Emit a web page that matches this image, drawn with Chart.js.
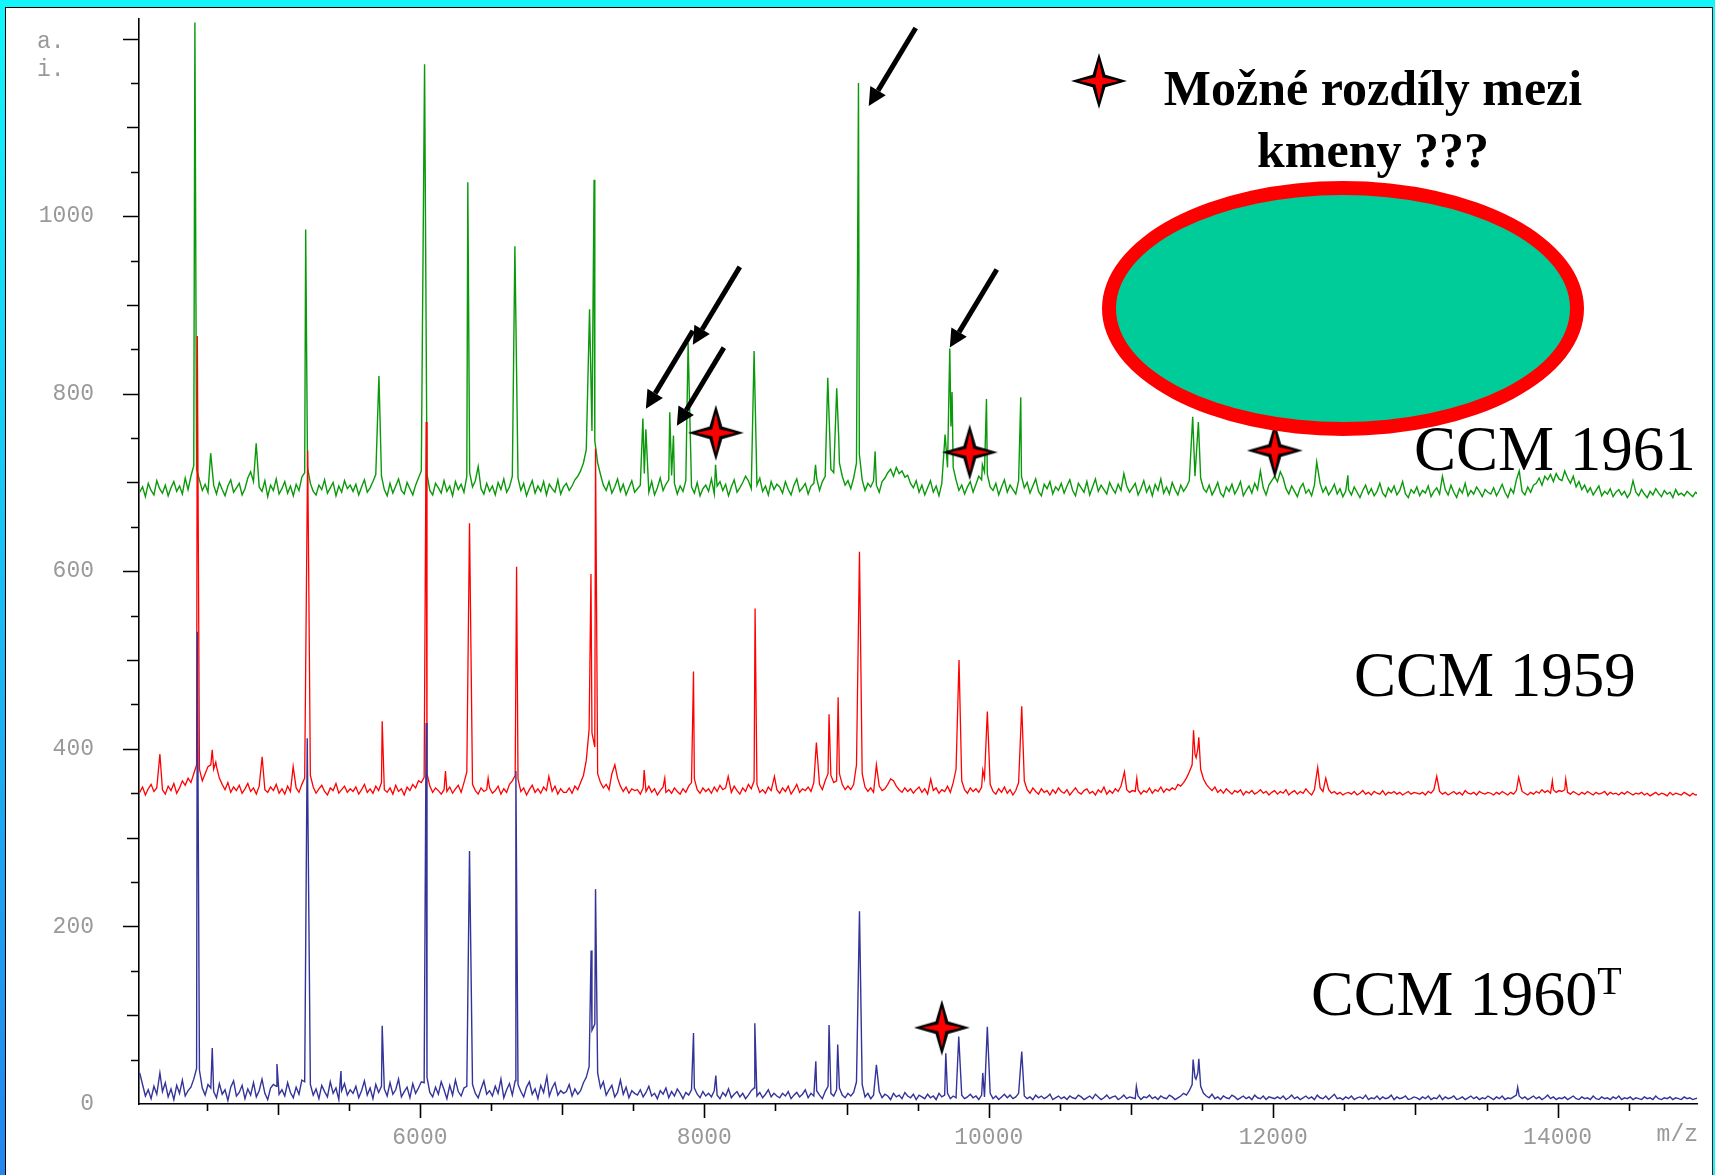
<!DOCTYPE html>
<html>
<head>
<meta charset="utf-8">
<title>MALDI-TOF spektra</title>
<script src="https://cdn.jsdelivr.net/npm/chart.js@4.4.1/dist/chart.umd.min.js"></script>
<style>
    html, body { margin: 0; padding: 0; background: #fff; }
    body { width: 1715px; height: 1175px; position: relative; overflow: hidden; }
    #chart { position: absolute; left: 0; top: 0; }
    .frame { position: absolute; }
    .serif { position: absolute; font-family: "Liberation Serif", "Times New Roman", serif; color: #000; white-space: nowrap; }
    #note { left: 1073px; top: 57px; width: 600px; text-align: center; font-size: 50px; font-weight: bold; line-height: 62px; }
    .strain { font-size: 63px; line-height: 63px; }
    #oval { position: absolute; left: 1102px; top: 181px; width: 482px; height: 255px; box-sizing: border-box;
            border: 14px solid #ff0000; border-radius: 50%; background: #00cc99; }
    #legendStar { position: absolute; left: 1071px; top: 53px; }
</style>
</head>
<body>
<canvas id="chart" width="1715" height="1175"></canvas>

<div class="serif strain" style="left:1414px; top:418px;">CCM 1961</div>
<div class="serif strain" style="left:1354px; top:644px;">CCM 1959</div>
<div class="serif strain" style="left:1311px; top:962px; font-size:64px; line-height:64px;">CCM 1960<span style="font-size:40px; position:relative; top:-21px;">T</span></div>
<div id="oval"></div>
<div id="note" class="serif">Možné rozdíly mezi<br>kmeny ???</div>
<canvas id="legendStar" width="56" height="56"></canvas>

<div class="frame" style="left:0; top:0; width:1715px; height:7px; background:#12f6fb;"></div>
<div class="frame" style="left:0; top:0; width:5px; height:1175px; background:linear-gradient(#12f6fb, #2386ee);"></div>
<div class="frame" style="left:1713px; top:0; width:2px; height:1175px; background:#12f6fb;"></div>
<div class="frame" style="left:5px; top:7px; width:1708px; height:1px; background:#000;"></div>
<div class="frame" style="left:5px; top:7px; width:1px; height:1168px; background:#000;"></div>
<div class="frame" style="left:1712px; top:7px; width:1px; height:1168px; background:#222;"></div>

<script>
// osy
const xTickLabels = ['6000', '8000', '10000', '12000', '14000'];
const yTickLabels = ['0', '200', '400', '600', '800', '1000'];

// sumove body spekter, krok 20 m/z od 4030 (intenzita nad vlastni zakladnou), 25 bodu na radek
const noiseStart = 4030;
const noiseStep = 20;

const greenOffset = 677; // CCM 1961
const redOffset = 342;   // CCM 1959
const blueOffset = 0;    // CCM 1960T

const greenNoise = [
    12, 18, 7, 22, 14, 9, 25, 16, 11, 20, 8, 17, 24, 13, 19, 10, 28, 15, 30, 42, 38, 26, 14, 21, 12,
    30, 20, 10, 23, 15, 8, 19, 26, 12, 17, 22, 9, 16, 28, 35, 24, 11, 18, 13, 25, 7, 20, 14, 27, 10,
    16, 24, 11, 19, 8, 21, 14, 29, 34, 40, 22, 13, 9, 20, 15, 26, 11, 17, 23, 8, 19, 12, 25, 16, 20,
    13, 21, 9, 18, 26, 12, 17, 24, 32, 20, 30, 15, 8, 22, 11, 19, 27, 14, 10, 23, 16, 9, 20, 28, 36,
    20, 32, 14, 9, 22, 17, 11, 25, 13, 19, 8, 24, 15, 21, 12, 30, 34, 18, 25, 41, 16, 10, 22, 13, 19,
    9, 23, 15, 27, 12, 18, 30, 20, 28, 14, 22, 8, 17, 25, 11, 19, 13, 24, 9, 21, 16, 12, 26, 10, 18,
    22, 14, 19, 26, 30, 36, 45, 60, 50, 81, 70, 45, 32, 20, 14, 24, 11, 18, 27, 13, 21, 9, 17, 25, 12,
    16, 20, 15, 15, 12, 24, 9, 17, 28, 14, 21, 26, 15, 22, 10, 19, 13, 25, 15, 18, 11, 23, 8, 16, 20,
    13, 27, 10, 19, 24, 14, 21, 8, 18, 26, 12, 17, 23, 30, 25, 16, 11, 20, 28, 13, 19, 9, 24, 15, 21,
    18, 11, 24, 15, 9, 20, 27, 13, 17, 22, 10, 19, 22, 28, 14, 24, 30, 15, 38, 34, 15, 45, 30, 20, 25,
    16, 28, 45, 55, 26, 14, 22, 18, 25, 20, 12, 24, 28, 34, 38, 30, 40, 33, 36, 29, 31, 22, 17, 25, 12,
    20, 9, 17, 25, 12, 19, 8, 22, 15, 40, 15, 40, 26, 14, 20, 10, 18, 24, 12, 21, 30, 26, 35, 32, 18,
    14, 22, 9, 18, 26, 12, 20, 15, 10, 25, 30, 17, 23, 11, 19, 27, 13, 8, 21, 16, 24, 10, 18, 14, 22,
    11, 19, 26, 14, 8, 22, 17, 12, 24, 9, 18, 27, 13, 20, 15, 10, 23, 16, 11, 21, 14, 33, 19, 12, 17,
    22, 9, 16, 25, 12, 19, 8, 21, 14, 27, 11, 18, 10, 23, 15, 9, 20, 13, 18, 25, 15, 30, 15, 28, 16,
    12, 20, 9, 15, 23, 11, 7, 18, 13, 21, 10, 16, 24, 8, 14, 19, 11, 22, 15, 36, 17, 9, 20, 25, 30,
    24, 35, 28, 16, 10, 19, 13, 7, 17, 22, 11, 15, 8, 20, 15, 22, 12, 18, 9, 14, 21, 10, 16, 7, 13,
    15, 9, 18, 12, 6, 14, 20, 10, 16, 8, 13, 22, 11, 7, 17, 12, 19, 9, 14, 24, 10, 6, 15, 11, 18,
    8, 14, 11, 19, 7, 13, 17, 10, 30, 15, 9, 20, 12, 6, 16, 11, 22, 8, 14, 10, 18, 13, 7, 15, 12,
    10, 17, 8, 14, 21, 12, 6, 16, 11, 26, 36, 13, 9, 18, 12, 20, 22, 28, 20, 30, 26, 32, 24, 33, 27,
    25, 36, 28, 22, 30, 18, 24, 15, 20, 12, 17, 9, 14, 19, 8, 13, 10, 16, 7, 12, 15, 9, 13, 6, 11,
    25, 12, 8, 15, 10, 6, 13, 9, 16, 11, 7, 14, 10, 12, 6, 15, 9, 11, 8, 13, 10, 7, 12, 9
];

const redNoise = [
    9, 15, 6, 13, 18, 10, 14, 20, 12, 7, 16, 11, 19, 8, 14, 22, 17, 25, 20, 30, 40, 35, 22, 30, 38,
    40, 35, 38, 25, 18, 12, 20, 9, 15, 11, 17, 8, 13, 19, 10, 14, 7, 16, 12, 12, 9, 15, 11, 18, 8,
    13, 7, 16, 10, 12, 14, 9, 18, 25, 12, 28, 15, 8, 13, 17, 10, 6, 14, 11, 19, 8, 12, 16, 9, 13,
    10, 15, 7, 12, 18, 9, 13, 8, 16, 11, 20, 12, 9, 14, 7, 17, 10, 13, 6, 15, 11, 18, 14, 22, 20,
    26, 30, 16, 9, 14, 11, 7, 12, 10, 15, 8, 13, 17, 9, 20, 32, 12, 18, 11, 7, 14, 10, 12, 14, 8,
    11, 16, 7, 13, 9, 18, 22, 28, 24, 10, 14, 6, 12, 17, 9, 13, 8, 15, 11, 12, 10, 16, 7, 13, 9,
    9, 14, 8, 16, 12, 20, 28, 45, 80, 76, 60, 30, 20, 14, 18, 12, 30, 12, 25, 16, 10, 15, 8, 13, 11,
    12, 7, 14, 10, 16, 9, 13, 6, 11, 15, 9, 12, 8, 14, 10, 7, 13, 9, 16, 20, 24, 12, 8, 14, 10,
    13, 8, 15, 10, 17, 12, 14, 12, 9, 16, 11, 7, 14, 10, 18, 13, 22, 18, 9, 12, 8, 15, 11, 12, 12,
    8, 14, 10, 16, 7, 12, 18, 9, 13, 11, 15, 10, 20, 12, 18, 12, 22, 30, 28, 20, 22, 30, 18, 12, 16,
    12, 18, 40, 12, 30, 15, 10, 14, 9, 12, 16, 11, 13, 18, 24, 22, 16, 12, 9, 14, 10, 13, 8, 12, 15,
    9, 13, 7, 12, 11, 14, 8, 12, 10, 16, 9, 20, 35, 12, 22, 12, 8, 14, 10, 13, 9, 15, 25, 12, 18,
    10, 7, 13, 9, 15, 8, 12, 6, 11, 20, 12, 22, 12, 8, 14, 10, 7, 13, 9, 11, 6, 12, 8, 14, 10,
    8, 12, 6, 10, 14, 9, 7, 11, 13, 8, 10, 6, 12, 9, 15, 7, 11, 8, 13, 10, 16, 12, 12, 9, 11,
    10, 12, 7, 11, 9, 14, 8, 12, 10, 15, 9, 13, 11, 14, 12, 18, 16, 20, 25, 32, 40, 52, 58, 35, 24,
    18, 14, 11, 15, 9, 12, 8, 13, 10, 7, 11, 9, 12, 6, 10, 8, 11, 7, 9, 12, 8, 10, 6, 9, 11,
    7, 10, 8, 12, 6, 9, 11, 7, 10, 8, 13, 9, 6, 12, 12, 14, 10, 12, 12, 8, 10, 7, 9, 6, 8,
    9, 7, 10, 6, 8, 11, 7, 9, 6, 10, 8, 7, 11, 6, 9, 8, 10, 7, 9, 6, 8, 10, 7, 9, 8,
    7, 9, 6, 10, 8, 12, 12, 10, 7, 9, 6, 8, 10, 7, 9, 6, 11, 8, 7, 9, 6, 10, 8, 7, 9,
    8, 6, 9, 7, 10, 8, 6, 9, 7, 11, 12, 10, 8, 6, 9, 7, 10, 8, 12, 9, 11, 8, 12, 9, 11,
    10, 12, 9, 7, 10, 8, 6, 9, 7, 10, 8, 6, 9, 7, 8, 10, 6, 9, 7, 8, 6, 9, 7, 10, 8,
    6, 8, 7, 9, 6, 8, 5, 7, 9, 6, 8, 7, 5, 9, 6, 8, 7, 6, 9, 7, 5, 8, 6, 7
];

const blueNoise = [
    35, 22, 9, 16, 6, 20, 11, 12, 14, 24, 8, 17, 5, 21, 12, 27, 9, 15, 19, 28, 40, 38, 18, 10, 22,
    18, 14, 7, 23, 11, 16, 4, 19, 26, 9, 13, 21, 6, 17, 10, 24, 8, 15, 28, 12, 5, 18, 22, 20, 11,
    16, 9, 24, 13, 7, 19, 11, 27, 25, 12, 22, 10, 17, 6, 21, 14, 8, 25, 12, 18, 5, 15, 23, 10, 16,
    12, 20, 7, 15, 26, 10, 18, 6, 22, 13, 20, 17, 9, 24, 11, 16, 28, 8, 14, 19, 7, 23, 12, 18, 25,
    24, 30, 13, 8, 19, 11, 25, 16, 6, 21, 10, 27, 14, 9, 18, 20, 12, 22, 12, 7, 17, 26, 11, 15, 9,
    20, 12, 28, 7, 16, 23, 10, 26, 22, 14, 8, 19, 25, 11, 17, 6, 21, 13, 12, 9, 18, 24, 10, 15, 12,
    14, 22, 9, 17, 11, 15, 24, 30, 42, 83, 90, 35, 18, 25, 10, 16, 21, 8, 13, 27, 11, 19, 7, 15, 12,
    10, 16, 8, 13, 20, 9, 12, 6, 15, 11, 18, 7, 14, 9, 17, 12, 6, 13, 10, 16, 18, 11, 7, 14, 9,
    12, 8, 15, 10, 6, 13, 9, 17, 7, 11, 14, 8, 12, 6, 10, 15, 18, 9, 13, 7, 11, 16, 8, 12, 9,
    7, 12, 9, 14, 6, 10, 13, 8, 11, 16, 7, 12, 9, 15, 10, 6, 14, 20, 12, 9, 16, 18, 10, 7, 12,
    9, 13, 25, 12, 22, 8, 12, 6, 10, 12, 14, 7, 11, 9, 5, 12, 8, 10, 6, 13, 9, 7, 11, 5, 10,
    8, 6, 11, 7, 9, 5, 12, 8, 10, 12, 6, 9, 7, 12, 10, 6, 8, 11, 7, 9, 5, 10, 8, 12, 12,
    6, 9, 5, 8, 11, 7, 10, 6, 8, 12, 12, 9, 6, 8, 5, 10, 7, 9, 6, 8, 11, 5, 7, 9, 6,
    8, 5, 9, 7, 6, 10, 8, 5, 7, 9, 6, 11, 8, 5, 7, 10, 6, 8, 9, 5, 7, 10, 6, 8, 7,
    6, 9, 5, 8, 7, 10, 6, 8, 5, 9, 7, 6, 10, 8, 5, 7, 9, 12, 10, 15, 22, 30, 35, 20, 12,
    9, 7, 11, 6, 8, 5, 9, 7, 6, 10, 8, 5, 7, 9, 6, 8, 5, 10, 7, 6, 9, 5, 8, 7, 6,
    8, 6, 9, 5, 7, 10, 6, 8, 5, 7, 9, 6, 8, 5, 10, 7, 6, 9, 5, 8, 11, 6, 7, 5, 8,
    6, 9, 5, 7, 8, 6, 10, 5, 7, 6, 9, 5, 8, 6, 7, 10, 5, 8, 6, 7, 9, 5, 6, 8, 7,
    5, 8, 6, 9, 5, 7, 6, 10, 5, 8, 6, 7, 9, 5, 6, 8, 5, 7, 9, 6, 8, 5, 7, 6, 9,
    7, 5, 8, 6, 9, 5, 7, 6, 8, 10, 9, 6, 8, 5, 7, 9, 6, 8, 5, 7, 10, 6, 8, 5, 7,
    6, 8, 5, 7, 9, 6, 5, 8, 6, 7, 5, 9, 6, 5, 8, 6, 7, 5, 8, 6, 9, 5, 7, 6, 8,
    5, 7, 6, 5, 8, 6, 7, 5, 9, 6, 5, 7, 6, 8, 5, 7, 6, 5, 8, 6, 7, 5, 6, 7
];

// piky [m/z, intenzita nad zakladnou]
const greenPeaks = [
    [4418, 541], [4529, 56], [4849, 67], [5197, 308], [5712, 143], [6033, 494], [6337, 361],
    [6668, 289], [7193, 218], [7225, 364], [7568, 95], [7578, 33], [7589, 83], [7757, 102],
    [7770, 31], [7783, 76], [7886, 180], [8079, 43], [8350, 171], [8782, 43], [8868, 141],
    [8931, 129], [8945, 74], [9084, 473], [9201, 58], [9693, 77], [9726, 174], [9734, 86],
    [9742, 125], [9955, 43], [9984, 117], [10225, 119], [11434, 97], [11474, 91], [12306, 46],
    [12525, 31]
];

const redPeaks = [
    [4172, 52], [4435, 523], [4540, 57], [4565, 43], [4891, 49], [5109, 38], [5211, 394],
    [5735, 89], [6044, 426], [6180, 33], [6349, 312], [6480, 25], [6680, 263], [6907, 27],
    [7203, 255], [7235, 396], [7371, 40], [7577, 34], [7722, 25], [7924, 145], [8168, 27],
    [8357, 216], [8493, 27], [8788, 65], [8877, 97], [8941, 116], [9091, 280], [9210, 40],
    [9592, 24], [9791, 158], [9958, 34], [9990, 100], [10232, 106], [10954, 32], [11041, 25],
    [11440, 79], [11458, 48], [11477, 71], [12313, 37], [12370, 25], [13150, 27], [13726, 26],
    [13963, 22], [14057, 24]
];

const bluePeaks = [
    [4172, 35], [4435, 532], [4540, 63], [4995, 45], [5208, 412], [5445, 37], [5735, 88],
    [6044, 429], [6349, 285], [6675, 375], [6893, 31], [7204, 173], [7235, 242], [7924, 80],
    [8081, 32], [8355, 91], [8784, 48], [8877, 89], [8938, 67], [9091, 217], [9210, 44],
    [9698, 57], [9789, 76], [9958, 35], [9990, 87], [10232, 59], [11038, 20], [11437, 50],
    [11457, 28], [11477, 51], [13719, 19]
];

// hvezdicky (mozne rozdily) a sipky
const starPoints = [[8081, 756], [9866, 734], [12011, 736], [9670, 86]];
const arrowTips = [[9156, 1124], [7919, 855], [7807, 764], [7589, 783], [9726, 852]];

// slozeni spektra: sumove body + piky, serazeno podle m/z
function buildSpectrum(noise, peaks, offset) {
    const pts = [];
    noise.forEach((v, i) => {
        const mz = noiseStart + i * noiseStep;
        if (!peaks.some(p => Math.abs(p[0] - mz) < 5)) {
            pts.push({ x: mz, y: offset + v });
        }
    });
    peaks.forEach(p => pts.push({ x: p[0], y: offset + p[1] }));
    pts.sort((a, b) => a.x - b.x);
    return pts;
}

function drawStar(ctx, cx, cy, R, r) {
    ctx.beginPath();
    for (let k = 0; k < 8; k++) {
        const a = -Math.PI / 2 + k * Math.PI / 4;
        const rad = k % 2 === 0 ? R : r;
        const px = cx + rad * Math.cos(a);
        const py = cy + rad * Math.sin(a);
        if (k === 0) ctx.moveTo(px, py); else ctx.lineTo(px, py);
    }
    ctx.closePath();
    ctx.fill();
}

function paintStar(canvas) {
    const c = canvas.getContext('2d');
    const m = canvas.width / 2;
    c.fillStyle = '#000';
    drawStar(c, m, m, 28, 9);
    c.fillStyle = '#ff0000';
    drawStar(c, m, m, 20, 5);
}

const starImg = document.createElement('canvas');
starImg.width = 56;
starImg.height = 56;
paintStar(starImg);
paintStar(document.getElementById('legendStar'));

// kratke znacky na osach + popisky a.i. a m/z
const axisMarks = {
    id: 'axisMarks',
    afterDraw(chart) {
        const { ctx, chartArea } = chart;
        const x = chart.scales.x;
        const y = chart.scales.y;
        ctx.save();
        ctx.strokeStyle = '#000';
        ctx.lineWidth = 1.6;
        ctx.beginPath();
        for (let v = 50; v <= 1200; v += 50) {
            const len = v % 200 === 0 ? 16 : (v % 100 === 0 ? 12 : 8);
            const py = Math.round(y.getPixelForValue(v)) + 0.5;
            ctx.moveTo(chartArea.left - len, py);
            ctx.lineTo(chartArea.left, py);
        }
        for (let v = 4500; v <= 14500; v += 500) {
            const len = v % 2000 === 0 ? 14 : (v % 1000 === 0 ? 11 : 7);
            const px = Math.round(x.getPixelForValue(v)) + 0.5;
            ctx.moveTo(px, chartArea.bottom);
            ctx.lineTo(px, chartArea.bottom + len);
        }
        ctx.stroke();

        ctx.fillStyle = '#999';
        ctx.font = '23px "Liberation Mono", "Courier New", monospace';
        ctx.textBaseline = 'middle';
        ctx.textAlign = 'left';
        const top = y.getPixelForValue(1200);
        ctx.fillText('a.', chartArea.left - 102, top + 3);
        ctx.fillText('i.', chartArea.left - 102, top + 31);
        ctx.textAlign = 'right';
        ctx.fillText('m/z', chartArea.right + 1, chartArea.bottom + 31);
        ctx.restore();
    }
};

// sipky k pikum
const arrows = {
    id: 'arrows',
    afterDatasetsDraw(chart) {
        const { ctx } = chart;
        const x = chart.scales.x;
        const y = chart.scales.y;
        ctx.save();
        ctx.strokeStyle = '#000';
        ctx.fillStyle = '#000';
        ctx.lineWidth = 5;
        arrowTips.forEach(([mz, v]) => {
            const tx = x.getPixelForValue(mz);
            const ty = y.getPixelForValue(v);
            const sx = tx + 47;
            const sy = ty - 78;
            const ang = Math.atan2(ty - sy, tx - sx);
            const hl = 18, hw = 9;
            const bx = tx - hl * Math.cos(ang);
            const by = ty - hl * Math.sin(ang);
            ctx.beginPath();
            ctx.moveTo(sx, sy);
            ctx.lineTo(bx, by);
            ctx.stroke();
            ctx.beginPath();
            ctx.moveTo(tx, ty);
            ctx.lineTo(bx + hw * Math.sin(ang), by - hw * Math.cos(ang));
            ctx.lineTo(bx - hw * Math.sin(ang), by + hw * Math.cos(ang));
            ctx.closePath();
            ctx.fill();
        });
        ctx.restore();
    }
};

const tickFont = { family: '"Liberation Mono", "Courier New", monospace', size: 23 };

function noScalePadding(scale) {
    scale.paddingTop = 0;
    scale.paddingBottom = 0;
    scale.paddingLeft = 0;
    scale.paddingRight = 0;
}

new Chart(document.getElementById('chart'), {
    type: 'line',
    data: {
        datasets: [
            {
                type: 'scatter',
                label: 'rozdíly',
                data: starPoints.map(p => ({ x: p[0], y: p[1] })),
                pointStyle: starImg,
                pointRadius: 28,
                showLine: false,
                order: 0
            },
            {
                label: 'CCM 1960T',
                data: buildSpectrum(blueNoise, bluePeaks, blueOffset),
                borderColor: '#333399',
                borderWidth: 1.4,
                pointRadius: 0,
                tension: 0,
                order: 1
            },
            {
                label: 'CCM 1959',
                data: buildSpectrum(redNoise, redPeaks, redOffset),
                borderColor: '#ff0000',
                borderWidth: 1.3,
                pointRadius: 0,
                tension: 0,
                order: 2
            },
            {
                label: 'CCM 1961',
                data: buildSpectrum(greenNoise, greenPeaks, greenOffset),
                borderColor: '#0a990a',
                borderWidth: 1.4,
                pointRadius: 0,
                tension: 0,
                order: 3
            }
        ]
    },
    options: {
        responsive: false,
        devicePixelRatio: 1,
        animation: false,
        layout: { autoPadding: false, padding: { left: 0, top: 19, right: 18, bottom: 0 } },
        plugins: {
            legend: { display: false },
            tooltip: { enabled: false }
        },
        scales: {
            x: {
                type: 'linear',
                min: 4025,
                max: 14980,
                afterBuildTicks: (scale) => { scale.ticks = xTickLabels.map(t => ({ value: Number(t) })); },
                afterFit: (scale) => { scale.height = 71; noScalePadding(scale); },
                grid: { display: false, drawTicks: false },
                border: { display: true, color: '#000', width: 1.6 },
                ticks: {
                    font: tickFont,
                    color: '#999',
                    padding: 20,
                    maxRotation: 0,
                    autoSkip: false,
                    callback: (value, index) => xTickLabels[index]
                }
            },
            y: {
                min: 0,
                max: 1222,
                afterBuildTicks: (scale) => { scale.ticks = yTickLabels.map(t => ({ value: Number(t) })); },
                afterFit: (scale) => { scale.width = 139; noScalePadding(scale); },
                grid: { display: false, drawTicks: false },
                border: { display: true, color: '#000', width: 1.6 },
                ticks: {
                    font: tickFont,
                    color: '#999',
                    padding: 45,
                    crossAlign: 'near',
                    callback: (value, index) => yTickLabels[index]
                }
            }
        }
    },
    plugins: [axisMarks, arrows]
});
</script>
</body>
</html>
